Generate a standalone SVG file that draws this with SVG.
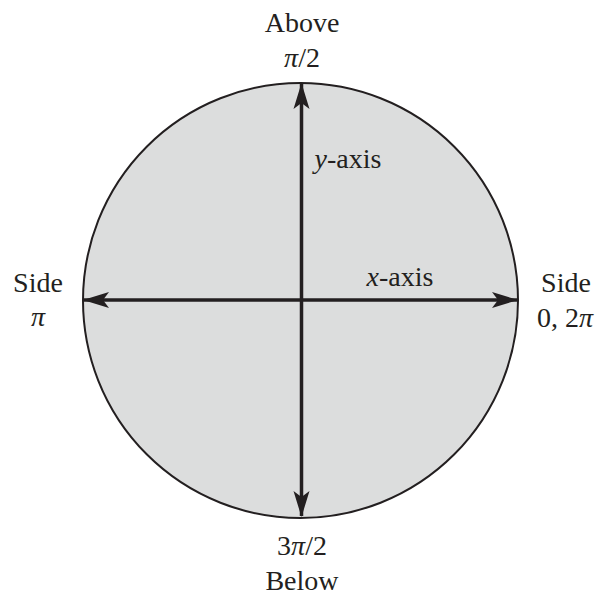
<svg xmlns="http://www.w3.org/2000/svg" width="595" height="597" viewBox="0 0 595 597">
<style>
text{font-family:"Liberation Serif","Times New Roman",serif;font-size:28px;fill:#231f20;text-anchor:middle}
.i{font-style:italic}
.ax{stroke:#231f20;stroke-width:3.5;fill:none}
</style>
<defs>
<marker id="ah" viewBox="0 0 26 18" refX="25" refY="9" markerWidth="26" markerHeight="18" markerUnits="userSpaceOnUse" orient="auto-start-reverse">
<path d="M0,1 L26,9 L0,17 L6,9 Z" fill="#231f20"/>
</marker>
</defs>
<rect width="595" height="597" fill="#fff"/>
<g id="circle">
<circle cx="300.5" cy="300.5" r="217.5" fill="#dcdddd" stroke="#231f20" stroke-width="2"/>
</g>
<g id="connectors">
<line class="ax" x1="301.5" y1="516" x2="301.5" y2="84" marker-start="url(#ah)" marker-end="url(#ah)"/>
<line class="ax" x1="84" y1="300" x2="517" y2="300" marker-start="url(#ah)" marker-end="url(#ah)"/>
</g>
<g id="top">
<text x="302" y="32">Above</text>
<text x="302" y="67"><tspan class="i">π</tspan>/2</text>
</g>
<g id="left">
<text x="38" y="292">Side</text>
<text x="38" y="326" class="i">π</text>
</g>
<g id="right">
<text x="566" y="292">Side</text>
<text x="565" y="327">0, 2<tspan class="i">π</tspan></text>
</g>
<g id="bottom">
<text x="302" y="555">3<tspan class="i">π</tspan>/2</text>
<text x="302" y="590">Below</text>
</g>
<g id="ylabel">
<text x="348" y="168"><tspan class="i">y</tspan>-axis</text>
</g>
<g id="xlabel">
<text x="400" y="286"><tspan class="i">x</tspan>-axis</text>
</g>
</svg>
